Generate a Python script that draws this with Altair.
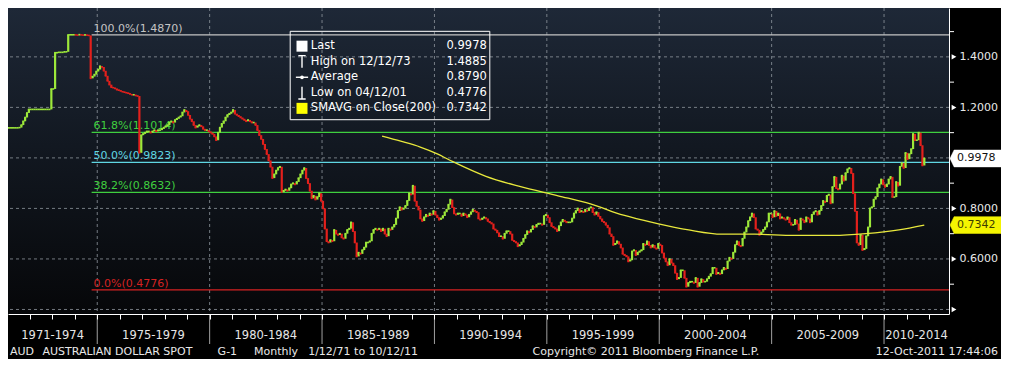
import altair as alt
import pandas as pd

# ---------------- data ----------------
FIRST_YEAR = 1971
c1971 = [1.119, 1.119, 1.119, 1.119, 1.119, 1.119, 1.12, 1.13, 1.145, 1.16, 1.178, 1.192]
c1972 = [1.192, 1.192, 1.192, 1.192, 1.192, 1.192, 1.192, 1.192, 1.192, 1.192, 1.192, 1.273]
c1973 = [1.273, 1.4165, 1.4165, 1.418, 1.418, 1.418, 1.42, 1.42, 1.487, 1.4875, 1.4875, 1.4875]
c1974 = [1.487, 1.486, 1.488, 1.487, 1.486, 1.487, 1.486, 1.485, 1.315, 1.322, 1.33, 1.342]
c1975 = [1.35, 1.363, 1.36, 1.345, 1.325, 1.305, 1.29, 1.28, 1.278, 1.275, 1.27, 1.268]
c1976 = [1.265, 1.262, 1.26, 1.258, 1.256, 1.253, 1.25, 1.25, 1.247, 1.245, 1.02, 1.09]
c1977 = [1.095, 1.10, 1.105, 1.105, 1.10, 1.105, 1.11, 1.105, 1.11, 1.11, 1.115, 1.12]
c1978 = [1.125, 1.13, 1.14, 1.145, 1.14, 1.15, 1.155, 1.16, 1.165, 1.18, 1.19, 1.185]
c1979 = [1.17, 1.155, 1.145, 1.13, 1.12, 1.125, 1.13, 1.125, 1.115, 1.11, 1.11, 1.105]
c1980 = [1.10, 1.095, 1.085, 1.07, 1.10, 1.12, 1.135, 1.145, 1.16, 1.17, 1.175, 1.18]
c1981 = [1.19, 1.175, 1.17, 1.165, 1.16, 1.155, 1.15, 1.145, 1.15, 1.145, 1.14, 1.14]
c1982 = [1.13, 1.11, 1.09, 1.075, 1.055, 1.035, 1.015, 0.99, 0.965, 0.92, 0.935, 0.95]
c1983 = [0.96, 0.965, 0.865, 0.87, 0.875, 0.87, 0.88, 0.895, 0.90, 0.895, 0.905, 0.92]
c1984 = [0.935, 0.95, 0.96, 0.92, 0.90, 0.87, 0.84, 0.85, 0.835, 0.845, 0.86, 0.83]
c1985 = [0.80, 0.72, 0.67, 0.665, 0.675, 0.67, 0.715, 0.70, 0.695, 0.70, 0.685, 0.68]
c1986 = [0.70, 0.715, 0.72, 0.745, 0.71, 0.665, 0.61, 0.625, 0.62, 0.635, 0.645, 0.665]
c1987 = [0.665, 0.67, 0.70, 0.715, 0.72, 0.715, 0.72, 0.71, 0.72, 0.70, 0.69, 0.72]
c1988 = [0.715, 0.725, 0.735, 0.76, 0.79, 0.805, 0.795, 0.80, 0.81, 0.83, 0.86, 0.855]
c1989 = [0.89, 0.83, 0.81, 0.795, 0.76, 0.75, 0.765, 0.775, 0.77, 0.78, 0.775, 0.79]
c1990 = [0.775, 0.765, 0.755, 0.76, 0.77, 0.785, 0.795, 0.815, 0.835, 0.805, 0.78, 0.775]
c1991 = [0.78, 0.78, 0.77, 0.78, 0.775, 0.765, 0.775, 0.785, 0.795, 0.79, 0.785, 0.76]
c1992 = [0.755, 0.76, 0.765, 0.76, 0.75, 0.745, 0.74, 0.72, 0.715, 0.705, 0.69, 0.69]
c1993 = [0.68, 0.70, 0.71, 0.71, 0.70, 0.675, 0.67, 0.665, 0.65, 0.655, 0.665, 0.68]
c1994 = [0.695, 0.71, 0.705, 0.715, 0.73, 0.725, 0.735, 0.74, 0.74, 0.735, 0.77, 0.775]
c1995 = [0.765, 0.745, 0.73, 0.725, 0.72, 0.71, 0.73, 0.745, 0.755, 0.75, 0.745, 0.745]
c1996 = [0.745, 0.76, 0.78, 0.79, 0.80, 0.785, 0.79, 0.785, 0.795, 0.79, 0.80, 0.805]
c1997 = [0.785, 0.775, 0.785, 0.77, 0.76, 0.75, 0.745, 0.735, 0.725, 0.70, 0.69, 0.655]
c1998 = [0.66, 0.67, 0.66, 0.645, 0.62, 0.615, 0.61, 0.59, 0.595, 0.63, 0.635, 0.615]
c1999 = [0.625, 0.63, 0.635, 0.66, 0.655, 0.67, 0.655, 0.645, 0.655, 0.645, 0.64, 0.66]
c2000 = [0.655, 0.625, 0.605, 0.59, 0.575, 0.60, 0.585, 0.575, 0.545, 0.52, 0.525, 0.555]
c2001 = [0.555, 0.525, 0.49, 0.505, 0.51, 0.51, 0.505, 0.525, 0.49, 0.505, 0.52, 0.51]
c2002 = [0.51, 0.52, 0.53, 0.54, 0.565, 0.565, 0.54, 0.545, 0.54, 0.555, 0.565, 0.56]
c2003 = [0.59, 0.605, 0.60, 0.625, 0.655, 0.67, 0.655, 0.65, 0.68, 0.705, 0.725, 0.75]
c2004 = [0.765, 0.78, 0.765, 0.72, 0.715, 0.695, 0.705, 0.715, 0.725, 0.745, 0.78, 0.78]
c2005 = [0.765, 0.79, 0.77, 0.78, 0.76, 0.765, 0.76, 0.755, 0.765, 0.745, 0.735, 0.735]
c2006 = [0.755, 0.74, 0.715, 0.76, 0.755, 0.745, 0.765, 0.76, 0.745, 0.775, 0.785, 0.79]
c2007 = [0.775, 0.79, 0.81, 0.83, 0.825, 0.85, 0.855, 0.82, 0.885, 0.925, 0.88, 0.875]
c2008 = [0.895, 0.93, 0.91, 0.94, 0.955, 0.96, 0.94, 0.86, 0.79, 0.665, 0.655, 0.695]
c2009 = [0.635, 0.64, 0.69, 0.725, 0.80, 0.805, 0.835, 0.845, 0.88, 0.895, 0.915, 0.895]
c2010 = [0.885, 0.895, 0.915, 0.925, 0.845, 0.845, 0.905, 0.89, 0.965, 0.98, 0.96, 1.02]
c2011 = [0.995, 1.015, 1.035, 1.095, 1.07, 1.07, 1.10, 1.05, 0.97, 0.9978]

closes_by_year = [c1971, c1972, c1973, c1974, c1975, c1976, c1977, c1978, c1979, c1980,
                  c1981, c1982, c1983, c1984, c1985, c1986, c1987, c1988, c1989, c1990,
                  c1991, c1992, c1993, c1994, c1995, c1996, c1997, c1998, c1999, c2000,
                  c2001, c2002, c2003, c2004, c2005, c2006, c2007, c2008, c2009, c2010, c2011]

# 200-month simple moving average
sma_years = [1987.67, 1988.50, 1989.37, 1990.10, 1990.82, 1992.29, 1993.75, 1995.50, 1996.94,
             1998.41, 1999.87, 2001.31, 2002.79, 2004.25, 2006.00, 2007.75, 2009.19, 2010.66, 2011.79]
sma_values = [1.086, 1.066, 1.043, 1.017, 0.985, 0.927, 0.888, 0.850, 0.818,
              0.773, 0.741, 0.715, 0.698, 0.698, 0.693, 0.693, 0.700, 0.715, 0.7342]

fib_names = ["100.0%", "61.8%", "50.0%", "38.2%", "0.0%"]
fib_values = [1.4870, 1.1014, 0.9823, 0.8632, 0.4776]
fib_start_year = 1974.75

legend_labels = ["Last", "High on 12/12/73", "Average", "Low on 04/12/01", "SMAVG on Close(200)"]
legend_values = ["0.9978", "1.4885", "0.8790", "0.4776", "0.7342"]
last_value = 0.9978
sma_last_value = 0.7342

y_grid = [0.4, 0.6, 0.8, 1.0, 1.2, 1.4]
y_labels = [0.6, 0.8, 1.2, 1.4]
y_minor = [0.5, 0.7, 0.9, 1.1, 1.3, 1.5]
tick_years = list(range(1972, 2013))
period_bounds = [1975, 1980, 1985, 1990, 1995, 2000, 2005, 2010]
period_labels = ["1971-1974", "1975-1979", "1980-1984", "1985-1989", "1990-1994",
                 "1995-1999", "2000-2004", "2005-2009", "2010-2014"]

footer_left = ["AUD", "AUSTRALIAN DOLLAR SPOT", "G-1", "Monthly", "1/12/71 to 10/12/11"]
footer_copy = "Copyright\u00a9 2011 Bloomberg Finance L.P."
footer_stamp = "12-Oct-2011 17:44:06"

# ---------------- layout / style ----------------
W, H = 941, 306
PAD_R, PAD_B = 52, 45
X_MIN, X_MAX = 1971.03, 2012.89
Y_MIN, Y_MAX = 0.382, 1.5935
SX, SY = W / 957.0, H / 315.0
FONT = "DejaVu Sans"

GREEN = "#9de83a"
RED = "#e3201c"
GRID = "#8f969e"
fib_colors = ["#c4c4c4", "#3fcf3f", "#5fd6e2", "#3fcf3f", "#d42222"]
icon_shapes = [
    "square",
    "M -0.6 -1 L 0.6 -1 M 0 -1 L 0 1",
    "M -1 0 L 1 0",
    "M 0 -1 L 0 1 M -0.6 1 L 0.6 1",
    "square",
]
icon_colors = ["#ffffff", "#ffffff", "#ffffff", "#ffffff", "#ffff00"]

# ---------------- tables ----------------
rows = []
prev = None
for k, vals in enumerate(closes_by_year):
    for m, c in enumerate(vals):
        o = c if prev is None else prev
        rows.append({"t": FIRST_YEAR + k + (m + 0.5) / 12.0, "open": o, "close": c,
                     "dir": "up" if c >= o else "down"})
        prev = c
candles = pd.DataFrame(rows)
sma_df = pd.DataFrame({"t": sma_years, "v": sma_values})
dummy = pd.DataFrame({"a": [0]})

xscale = alt.Scale(domain=[X_MIN, X_MAX], nice=False, zero=False)
yscale = alt.Scale(domain=[Y_MIN, Y_MAX], nice=False, zero=False)
x_axis = alt.Axis(orient="bottom", values=tick_years, labels=False, grid=False, ticks=True,
                  tickSize=5, tickColor="#ffffff", domain=True, domainColor="#ffffff",
                  title=None, zindex=2)
y_axis = alt.Axis(orient="right", values=y_labels, grid=False, ticks=False, tickSize=0,
                  labelPadding=10, format=".4f", labelFont=FONT, labelFontSize=11,
                  labelColor="#e8e8e8", domain=True, domainColor="#ffffff", title=None, zindex=2)


def X(f):
    return alt.X(f, type="quantitative", scale=xscale, axis=x_axis)


def Y(f):
    return alt.Y(f, type="quantitative", scale=yscale, axis=y_axis)


layers = []

# plot background gradient
grad = alt.LinearGradient(gradient="linear", x1=0, x2=0, y1=0, y2=1, stops=[
    alt.GradientStop(color="#1e2837", offset=0),
    alt.GradientStop(color="#121821", offset=0.45),
    alt.GradientStop(color="#060709", offset=1)])
layers.append(alt.Chart(dummy).mark_rect(color=grad).encode(
    x=alt.value(0), x2=alt.value(W), y=alt.value(0), y2=alt.value(H)))

# dashed grid
layers.append(alt.Chart(pd.DataFrame({"v": y_grid})).mark_rule(
    color=GRID, strokeDash=[3, 3], strokeWidth=1, opacity=0.8).encode(y=Y("v")))
layers.append(alt.Chart(pd.DataFrame({"t": period_bounds})).mark_rule(
    color=GRID, strokeDash=[3, 3], strokeWidth=1, opacity=0.8).encode(x=X("t")))

# fibonacci retracement lines + labels
for name, val, col in zip(fib_names, fib_values, fib_colors):
    d = pd.DataFrame({"t": [fib_start_year], "t2": [X_MAX], "v": [val],
                      "txt": [f"{name}({val:.4f})"]})
    layers.append(alt.Chart(d).mark_rule(color=col, strokeWidth=1.2).encode(
        x=X("t"), x2="t2", y=Y("v")))
    layers.append(alt.Chart(d).mark_text(align="left", baseline="alphabetic", dx=2, dy=-3,
                                         font=FONT, fontSize=11, color=col).encode(
        x=X("t"), y=Y("v"), text="txt:N"))

# candles (open = previous close)
cscale = alt.Scale(domain=["up", "down"], range=[GREEN, RED])
layers.append(alt.Chart(candles).mark_rule(strokeWidth=2.2).encode(
    x=X("t"), y=Y("open"), y2="close", color=alt.Color("dir:N", scale=cscale, legend=None)))
layers.append(alt.Chart(candles).transform_calculate(
    t0="datum.t - 0.045", t1="datum.t + 0.045").mark_rule(strokeWidth=1.6).encode(
    x=X("t0"), x2="t1", y=Y("close"), color=alt.Color("dir:N", scale=cscale, legend=None)))

# moving average
layers.append(alt.Chart(sma_df).mark_line(color="#e8e83c", strokeWidth=1.3,
                                          interpolate="monotone").encode(x=X("t"), y=Y("v")))

# right axis decorations: arrows and minor ticks
layers.append(alt.Chart(pd.DataFrame({"v": y_grid})).mark_point(
    shape="triangle-right", filled=True, color="#ffffff", size=30, opacity=1).encode(
    x=alt.value(W + 5), y=Y("v")))
layers.append(alt.Chart(pd.DataFrame({"v": y_minor})).mark_rule(
    color="#ffffff", strokeWidth=1).encode(x=alt.value(W), x2=alt.value(W + 5), y=Y("v")))

# value flags on the right axis
flag = "M -1 0 L -0.84 -0.33 L 1 -0.33 L 1 0.33 L -0.84 0.33 Z"
for val, fill, tcol in [(last_value, "#ffffff", "#111111"), (sma_last_value, "#f4f400", "#3c3c00")]:
    d = pd.DataFrame({"v": [val], "txt": [f"{val:.4f}"]})
    layers.append(alt.Chart(d).mark_point(shape=flag, filled=True, fill=fill, stroke=fill,
                                          strokeWidth=0.5, opacity=1, size=2601).encode(
        x=alt.value(W + 26.5), y=Y("v")))
    layers.append(alt.Chart(d).mark_text(align="left", baseline="middle", font=FONT,
                                         fontSize=11, color=tcol).encode(
        x=alt.value(W + 8), y=Y("v"), text="txt:N"))

# separators and period labels under the x axis
layers.append(alt.Chart(pd.DataFrame({"t": period_bounds})).mark_rule(
    color="#a0a0a0", strokeWidth=1).encode(x=X("t"), y=alt.value(H), y2=alt.value(H + 30)))
edges = [X_MIN] + period_bounds + [X_MAX]
centers = [(edges[i] + edges[i + 1]) / 2 for i in range(len(period_labels))]
layers.append(alt.Chart(pd.DataFrame({"t": centers, "txt": period_labels})).mark_text(
    align="center", baseline="middle", font=FONT, fontSize=11.5, color="#e6e6e6").encode(
    x=X("t"), y=alt.value(H + 22), text="txt:N"))

# legend box
lx0, lx1, ly0, ly1 = 287 * SX, 490 * SX, 24 * SY, 115 * SY
layers.append(alt.Chart(dummy).mark_rect(fillOpacity=0, stroke="#ffffff", strokeWidth=1).encode(
    x=alt.value(lx0), x2=alt.value(lx1), y=alt.value(ly0), y2=alt.value(ly1)))
for i, (lab, val) in enumerate(zip(legend_labels, legend_values)):
    yy = (39.3 + 16 * i) * SY
    shp = icon_shapes[i]
    if shp == "square":
        layers.append(alt.Chart(dummy).mark_point(shape="square", filled=True, opacity=1,
                                                  color=icon_colors[i], size=121).encode(
            x=alt.value(299 * SX), y=alt.value(yy)))
    else:
        layers.append(alt.Chart(dummy).mark_point(shape=shp, filled=False, opacity=1,
                                                  color=icon_colors[i], strokeWidth=1.4,
                                                  size=150).encode(
            x=alt.value(299 * SX), y=alt.value(yy)))
        if lab == "Average":
            layers.append(alt.Chart(dummy).mark_point(shape="circle", filled=True, opacity=1,
                                                      color="#ffffff", size=14).encode(
                x=alt.value(299 * SX), y=alt.value(yy)))
    layers.append(alt.Chart(dummy).mark_text(align="left", baseline="middle", font=FONT,
                                             fontSize=11.5, color="#ffffff").encode(
        x=alt.value(308 * SX), y=alt.value(yy), text=alt.value(lab)))
    layers.append(alt.Chart(dummy).mark_text(align="left", baseline="middle", font=FONT,
                                             fontSize=11.5, color="#ffffff").encode(
        x=alt.value(446 * SX), y=alt.value(yy), text=alt.value(val)))

# footer
FX = (W + PAD_R) / 1009.0
for txt, px in zip(footer_left, [2, 35, 213, 250, 305]):
    layers.append(alt.Chart(dummy).mark_text(align="left", baseline="middle", font=FONT,
                                             fontSize=11, color="#e8e8e8").encode(
        x=alt.value(px * FX), y=alt.value(H + 38), text=alt.value(txt)))
layers.append(alt.Chart(dummy).mark_text(align="left", baseline="middle", font=FONT,
                                         fontSize=11, color="#e8e8e8").encode(
    x=alt.value(533 * FX), y=alt.value(H + 38), text=alt.value(footer_copy)))
layers.append(alt.Chart(dummy).mark_text(align="right", baseline="middle", font=FONT,
                                         fontSize=11, color="#e8e8e8").encode(
    x=alt.value(W + PAD_R - 3), y=alt.value(H + 38), text=alt.value(footer_stamp)))

chart = alt.layer(*layers).properties(
    width=W, height=H,
    padding={"left": 0, "top": 0, "right": PAD_R, "bottom": PAD_B},
    autosize=alt.AutoSizeParams(type="none"),
).configure(background="#000000").configure_view(strokeWidth=0)

chart.save("out.html", embed_options={"renderer": "svg", "actions": False})
